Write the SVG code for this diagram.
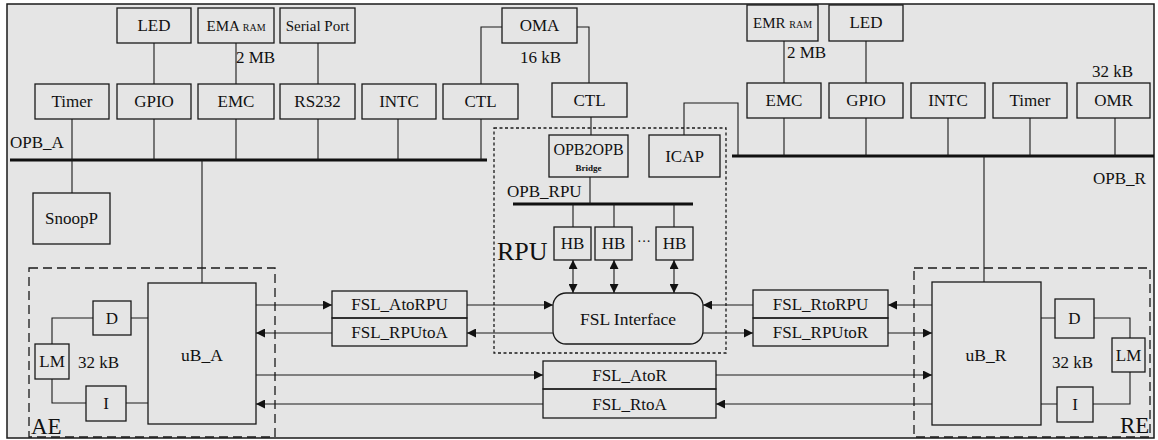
<svg xmlns="http://www.w3.org/2000/svg" width="1158" height="440" viewBox="0 0 1158 440">
<defs>
<style>
.bx{fill:none;stroke:#1a1a1a;stroke-width:1.3}
.ln{fill:none;stroke:#1a1a1a;stroke-width:1.1}
.bus{fill:none;stroke:#111;stroke-width:3.2}
.ar{fill:none;stroke:#1a1a1a;stroke-width:1.1;marker-end:url(#ah)}
.da{fill:none;stroke:#1a1a1a;stroke-width:1.1;marker-end:url(#ah);marker-start:url(#ahs)}
.dash{fill:none;stroke:#1a1a1a;stroke-width:1.3;stroke-dasharray:9 5}
.dot{fill:none;stroke:#1a1a1a;stroke-width:1.3;stroke-dasharray:3 2.5}
</style>
<marker id="ah" viewBox="0 0 10 10" refX="10" refY="5" markerWidth="9" markerHeight="9" markerUnits="userSpaceOnUse" orient="auto">
<path d="M0,0 L10,5 L0,10 z" fill="#111"/>
</marker>
<marker id="ahs" viewBox="0 0 10 10" refX="0" refY="5" markerWidth="9" markerHeight="9" markerUnits="userSpaceOnUse" orient="auto">
<path d="M10,0 L0,5 L10,10 z" fill="#111"/>
</marker>
</defs>
<rect x="0" y="0" width="1158" height="440" fill="#ffffff"/>
<rect id="frame" x="7" y="4" width="1147" height="434" fill="#e5e5e5" stroke="#1a1a1a" stroke-width="1.5"/>

<g id="connectors">
<line class="bus" x1="10" y1="160" x2="487" y2="160"/>
<line class="bus" x1="732" y1="156" x2="1154" y2="156"/>
<line class="bus" x1="513" y1="204" x2="693" y2="204"/>
<path class="ln" d="M154,43 V84 M236,43 V84 M318,43 V84"/>
<path class="ln" d="M72,119 V193 M154,119 V160 M236,119 V160 M318,119 V160 M398,119 V160 M481,119 V160"/>
<path class="ln" d="M481,84 V27 H502 M577,27 H589 V83 M591,117 V135 M590,177 V204"/>
<path class="ln" d="M573,204 V227 M614,204 V227 M674,204 V227"/>
<path class="ln" d="M202,160 V283 M984,156 V282"/>
<path class="ln" d="M784,41 V83 M866,41 V83"/>
<path class="ln" d="M784,118 V156 M866,118 V156 M948,118 V156 M1030,118 V156 M1115,118 V156"/>
<path class="ln" d="M684,135 V103 H738 V156"/>
<path class="ln" d="M131,318 H148 M93,318 H52 V344 M52,379 V403 H86 M126,403 H148"/>
<path class="ln" d="M1041,318 H1055 M1094,318 H1130 V338 M1130,372 V404 H1093 M1057,404 H1041"/>
<line class="ar" x1="256" y1="305" x2="332" y2="305"/>
<line class="ar" x1="332" y1="333" x2="256" y2="333"/>
<line class="ar" x1="467" y1="305" x2="553" y2="305"/>
<line class="ar" x1="553" y1="333" x2="467" y2="333"/>
<line class="ar" x1="753" y1="305" x2="703" y2="305"/>
<line class="ar" x1="703" y1="333" x2="753" y2="333"/>
<line class="ar" x1="932" y1="305" x2="888" y2="305"/>
<line class="ar" x1="888" y1="333" x2="932" y2="333"/>
<line class="ar" x1="256" y1="375" x2="543" y2="375"/>
<line class="ar" x1="716" y1="375" x2="932" y2="375"/>
<line class="ar" x1="932" y1="404" x2="716" y2="404"/>
<line class="ar" x1="543" y1="404" x2="256" y2="404"/>
<line class="da" x1="573" y1="260" x2="573" y2="293"/>
<line class="da" x1="614" y1="260" x2="614" y2="293"/>
<line class="da" x1="674" y1="260" x2="674" y2="293"/>
</g>

<g font-family="Liberation Serif, Times New Roman, serif" font-size="17" fill="#111">
<g id="AE"><rect class="dash" x="29" y="268" width="246" height="169"/><text x="31" y="434" font-size="23">AE</text></g>
<g id="RE"><rect class="dash" x="914" y="268" width="236" height="169"/><text x="1120" y="433" font-size="23">RE</text></g>
<g id="RPU"><rect class="dot" x="494" y="128" width="232" height="225"/><text x="497" y="260" font-size="26">RPU</text></g>

<g id="LED_A"><rect class="bx" x="117" y="8" width="74" height="35"/><text text-anchor="middle" x="154" y="31">LED</text></g>
<g id="EMA_RAM"><rect class="bx" x="198" y="8" width="76" height="35"/><text text-anchor="middle" x="236" y="31" font-size="15">EMA <tspan font-size="10">RAM</tspan></text></g>
<g id="SerialPort"><rect class="bx" x="280" y="8" width="75" height="35"/><text text-anchor="middle" x="317.5" y="31" font-size="15">Serial Port</text></g>
<text x="236" y="63">2 MB</text>
<g id="OMA"><rect class="bx" x="502" y="8" width="75" height="35"/><text text-anchor="middle" x="539.5" y="31">OMA</text></g>
<text x="520" y="63">16 kB</text>

<g id="Timer_A"><rect class="bx" x="35" y="84" width="74" height="35"/><text text-anchor="middle" x="72" y="107">Timer</text></g>
<g id="GPIO_A"><rect class="bx" x="117" y="84" width="74" height="35"/><text text-anchor="middle" x="154" y="107">GPIO</text></g>
<g id="EMC_A"><rect class="bx" x="198" y="84" width="76" height="35"/><text text-anchor="middle" x="236" y="107">EMC</text></g>
<g id="RS232"><rect class="bx" x="280" y="84" width="75" height="35"/><text text-anchor="middle" x="317.5" y="107">RS232</text></g>
<g id="INTC_A"><rect class="bx" x="362" y="84" width="74" height="35"/><text text-anchor="middle" x="399" y="107">INTC</text></g>
<g id="CTL_A"><rect class="bx" x="443" y="84" width="75" height="35"/><text text-anchor="middle" x="480.5" y="107">CTL</text></g>
<g id="CTL_R"><rect class="bx" x="552" y="83" width="75" height="34"/><text text-anchor="middle" x="589.5" y="106">CTL</text></g>
<text x="10" y="148">OPB_A</text>

<g id="SnoopP"><rect class="bx" x="33" y="193" width="77" height="51"/><text text-anchor="middle" x="71.5" y="224">SnoopP</text></g>

<g id="OPB2OPB"><rect class="bx" x="549" y="135" width="79" height="42"/><text text-anchor="middle" x="588.5" y="155" font-size="16">OPB2OPB</text><text text-anchor="middle" x="588.5" y="171" font-weight="bold" font-size="9">Bridge</text></g>
<g id="ICAP"><rect class="bx" x="649" y="135" width="71" height="42"/><text text-anchor="middle" x="684.5" y="162">ICAP</text></g>
<text x="507" y="197">OPB_RPU</text>
<g id="HB1"><rect class="bx" x="554" y="227" width="37" height="33"/><text text-anchor="middle" x="572.5" y="249">HB</text></g>
<g id="HB2"><rect class="bx" x="595" y="227" width="37" height="33"/><text text-anchor="middle" x="613.5" y="249">HB</text></g>
<text text-anchor="middle" x="644" y="246" font-size="14">···</text>
<g id="HB3"><rect class="bx" x="656" y="227" width="37" height="33"/><text text-anchor="middle" x="674.5" y="249">HB</text></g>
<g id="FSL_Interface"><rect class="bx" x="553" y="293" width="150" height="51" rx="13" ry="13"/><text text-anchor="middle" x="628" y="325" font-size="17.5">FSL Interface</text></g>

<g id="EMR_RAM"><rect class="bx" x="747" y="5" width="71" height="36"/><text text-anchor="middle" x="782.5" y="28" font-size="15">EMR <tspan font-size="10">RAM</tspan></text></g>
<g id="LED_R"><rect class="bx" x="829" y="5" width="74" height="36"/><text text-anchor="middle" x="866" y="28">LED</text></g>
<text x="787" y="58">2 MB</text>
<text x="1092" y="77">32 kB</text>
<g id="EMC_R"><rect class="bx" x="747" y="83" width="74" height="35"/><text text-anchor="middle" x="784" y="106">EMC</text></g>
<g id="GPIO_R"><rect class="bx" x="829" y="83" width="74" height="35"/><text text-anchor="middle" x="866" y="106">GPIO</text></g>
<g id="INTC_R"><rect class="bx" x="911" y="83" width="74" height="35"/><text text-anchor="middle" x="948" y="106">INTC</text></g>
<g id="Timer_R"><rect class="bx" x="993" y="83" width="74" height="35"/><text text-anchor="middle" x="1030" y="106">Timer</text></g>
<g id="OMR"><rect class="bx" x="1077" y="83" width="73" height="35"/><text text-anchor="middle" x="1113.5" y="106">OMR</text></g>
<text x="1093" y="184">OPB_R</text>

<g id="uB_A"><rect class="bx" x="148" y="283" width="108" height="141"/><text text-anchor="middle" x="202" y="361" font-size="17.5">uB_A</text></g>
<g id="D_A"><rect class="bx" x="93" y="301" width="38" height="34"/><text text-anchor="middle" x="112" y="324">D</text></g>
<g id="LM_A"><rect class="bx" x="35" y="344" width="34" height="35"/><text text-anchor="middle" x="52" y="367">LM</text></g>
<g id="I_A"><rect class="bx" x="86" y="386" width="40" height="35"/><text text-anchor="middle" x="106" y="409">I</text></g>
<text x="78" y="368">32 kB</text>

<g id="FSL_AtoRPU"><rect class="bx" x="332" y="291" width="135" height="27"/><text text-anchor="middle" x="399.5" y="310">FSL_AtoRPU</text></g>
<g id="FSL_RPUtoA"><rect class="bx" x="332" y="318" width="135" height="28"/><text text-anchor="middle" x="399.5" y="338">FSL_RPUtoA</text></g>
<g id="FSL_AtoR"><rect class="bx" x="543" y="361" width="173" height="28"/><text text-anchor="middle" x="629.5" y="381">FSL_AtoR</text></g>
<g id="FSL_RtoA"><rect class="bx" x="543" y="389" width="173" height="29"/><text text-anchor="middle" x="629.5" y="410">FSL_RtoA</text></g>
<g id="FSL_RtoRPU"><rect class="bx" x="753" y="290" width="135" height="28"/><text text-anchor="middle" x="820.5" y="310">FSL_RtoRPU</text></g>
<g id="FSL_RPUtoR"><rect class="bx" x="753" y="318" width="135" height="28"/><text text-anchor="middle" x="820.5" y="338">FSL_RPUtoR</text></g>

<g id="uB_R"><rect class="bx" x="932" y="282" width="109" height="143"/><text text-anchor="middle" x="986" y="361" font-size="17.5">uB_R</text></g>
<g id="D_R"><rect class="bx" x="1055" y="299" width="39" height="39"/><text text-anchor="middle" x="1074.5" y="324">D</text></g>
<g id="LM_R"><rect class="bx" x="1112" y="338" width="33" height="34"/><text text-anchor="middle" x="1128.5" y="361">LM</text></g>
<g id="I_R"><rect class="bx" x="1057" y="387" width="36" height="35"/><text text-anchor="middle" x="1075" y="410">I</text></g>
<text x="1052" y="368">32 kB</text>
</g>
</svg>
